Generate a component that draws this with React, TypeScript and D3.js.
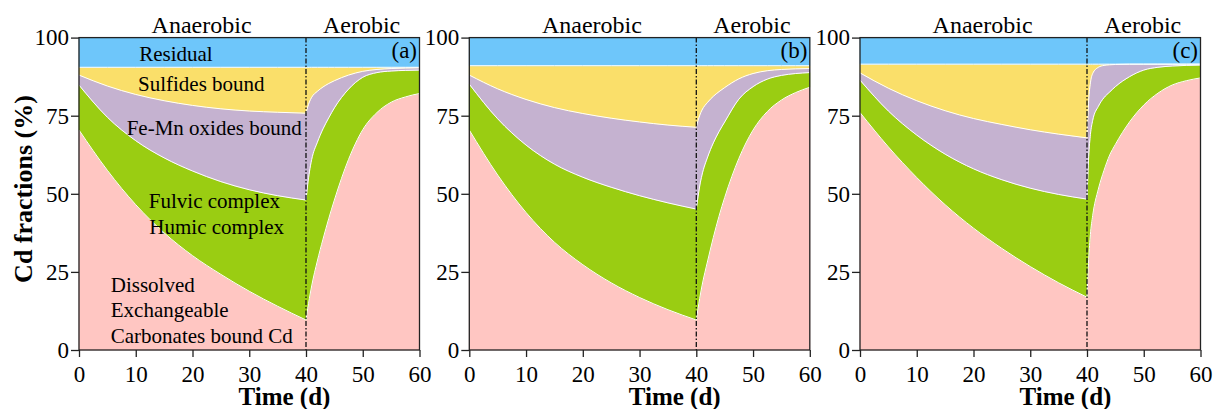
import * as d3 from "d3";
import { useRef, useEffect } from "react";

// sampling days of the two phases
const anaerobicDays = [0, 5, 10, 15, 20, 25, 30, 35, 40];
const aerobicDays = [40, 40.3, 40.6, 41, 42, 43, 44, 45, 47.5, 50, 52.5, 55, 57.5, 60];

const xTicks = [0, 10, 20, 30, 40, 50, 60];
const yTicks = [0, 25, 50, 75, 100];
const panelLabels = ["(a)", "(b)", "(c)"];
const phaseNames = ["Anaerobic", "Aerobic"];
const phaseCenters = [21.6, 49.8];
const switchDay = 40;

// layer order bottom -> top
const layerColors = ["#FFC6C2", "#9ACD12", "#C5B2D0", "#FADF6A", "#6EC6FA"];

// upper edge (cumulative %) of each layer, panel (a)
const aDissolvedAn = [70.4, 57.5, 46.5, 37.5, 30.2, 24.2, 18.8, 14, 9.6];
const aHumicAn = [84.8, 74.5, 67, 61.5, 57.3, 53.9, 51.3, 49.4, 48];
const aFeMnAn = [88, 84.5, 81.8, 79.8, 78.3, 77.2, 76.5, 76.1, 75.8];
const aDissolvedAe = [9.6, 13.2, 16.5, 20.5, 28.5, 35.5, 42, 48, 61, 70.5, 76, 79.3, 81, 82.1];
const aHumicAe = [48, 53, 57, 61, 66.5, 70.8, 74.3, 77.5, 83.5, 87.3, 88.8, 89.3, 89.5, 89.6];
const aFeMnAe = [75.8, 77.8, 79.4, 80.9, 82.8, 84.2, 85.3, 86.2, 88, 89.2, 89.8, 90.1, 90.25, 90.35];
const aResidualBase = 90.5;

// panel (b)
const bDissolvedAn = [70.4, 56, 44, 34.5, 27.3, 21.5, 16.8, 12.9, 9.6];
const bHumicAn = [85.1, 74, 65.6, 59.5, 55.3, 52.1, 49.4, 47.1, 45.1];
const bFeMnAn = [88, 83.6, 80.2, 77.6, 75.7, 74.2, 73, 72, 71.3];
const bDissolvedAe = [9.6, 13.2, 16.5, 20.5, 28.5, 36, 42.8, 48.8, 61.3, 70.4, 76.3, 80, 82.4, 84.1];
const bHumicAe = [45.1, 49, 52.5, 56, 61.8, 66.3, 69.9, 73, 80.3, 84.3, 86.7, 87.9, 88.5, 88.8];
const bFeMnAe = [71.3, 73.4, 75.1, 76.8, 79.3, 81.2, 82.7, 84, 86.8, 88.5, 89.4, 89.8, 90, 90.1];
const bResidualBase = 91.0;

// panel (c)
const cDissolvedAn = [76, 65, 55.2, 46.5, 39, 32.5, 26.7, 21.5, 16.9];
const cHumicAn = [86.4, 76.5, 68.8, 62.7, 58, 54.5, 51.8, 49.8, 48.3];
const cFeMnAn = [88.7, 83.8, 79.8, 76.6, 74.1, 72.2, 70.5, 69.1, 67.9];
const cDissolvedAe = [16.9, 29, 37, 43, 51.5, 57.5, 62.4, 65.8, 73, 78.4, 82.2, 84.8, 86.2, 87.1];
const cHumicAe = [48.3, 62, 69, 73.5, 78, 80.8, 82.6, 84.3, 87.5, 89.6, 90.5, 90.9, 91.1, 91.2];
const cFeMnAe = [67.9, 80, 85.5, 88.5, 90.5, 91.1, 91.3, 91.4, 91.5, 91.5, 91.5, 91.5, 91.5, 91.5];
const cResidualBase = 91.5;

// fraction labels written in panel (a): [text, day, %]
const fractionLabels: [string, number, number][] = [
  ["Residual", 10.6, 92.5],
  ["Sulfides bound", 10.4, 83.0],
  ["Fe-Mn oxides bound", 8.4, 68.8],
  ["Fulvic complex", 12.3, 45.4],
  ["Humic complex", 12.4, 37.1],
  ["Dissolved", 5.6, 18.7],
  ["Exchangeable", 5.6, 10.6],
  ["Carbonates bound Cd", 5.6, 2.2],
];

const panels = [
  { an: [aDissolvedAn, aHumicAn, aFeMnAn], ae: [aDissolvedAe, aHumicAe, aFeMnAe], base: aResidualBase },
  { an: [bDissolvedAn, bHumicAn, bFeMnAn], ae: [bDissolvedAe, bHumicAe, bFeMnAe], base: bResidualBase },
  { an: [cDissolvedAn, cHumicAn, cFeMnAn], ae: [cDissolvedAe, cHumicAe, cFeMnAe], base: cResidualBase },
];

const width = 1213;
const height = 409;
const panelLefts = [79, 469.3, 860];
const panelWidth = 340.5;
const top = 37.6;
const bottom = 350;
const serif = "'Liberation Serif', 'Times New Roman', serif";

export default function App() {
  const svgRef = useRef<SVGSVGElement>(null);

  const y = d3.scaleLinear().domain([0, 100]).range([bottom, top]);
  const xs = panelLefts.map((l) => d3.scaleLinear().domain([0, 60]).range([l, l + panelWidth]));

  useEffect(() => {
    const svg = d3.select(svgRef.current);
    xs.forEach((x, i) => {
      svg
        .select(`.x-axis-${i}`)
        .attr("transform", `translate(0,${bottom})`)
        .call(d3.axisBottom(x).tickValues(xTicks).tickSize(7).tickSizeOuter(0).tickPadding(9) as any);
      svg
        .select(`.y-axis-${i}`)
        .attr("transform", `translate(${panelLefts[i]},0)`)
        .call(d3.axisLeft(y).tickValues(yTicks).tickSize(8).tickSizeOuter(0).tickPadding(2) as any);
    });
    svg.selectAll(".axis .domain").remove();
    svg.selectAll(".axis text").attr("font-family", serif).attr("font-size", 23).attr("fill", "#000");
    svg.selectAll(".axis line").attr("stroke", "#222").attr("stroke-width", 1.3);
  }, []);

  return (
    <svg
      ref={svgRef}
      width={width}
      height={height}
      style={{ position: "absolute", left: 0, top: 0, background: "#fff" }}
    >
      {panels.map((p, i) => {
        const x = xs[i];
        const phases = [
          { days: anaerobicDays, tops: p.an },
          { days: aerobicDays, tops: p.ae },
        ];
        return (
          <g key={i}>
            {phases.map((ph, k) => {
              // stacked edges: 0, dissolved, humic, Fe-Mn, sulfides (= residual base), 100
              const bounds = [
                ph.days.map(() => 0),
                ...ph.tops,
                ph.days.map(() => p.base),
                ph.days.map(() => 100),
              ];
              const edge = (vals: number[]) =>
                d3
                  .line<number>()
                  .x((d) => x(d))
                  .y((_, j) => y(vals[j]))
                  .curve(d3.curveMonotoneX)(ph.days);
              return (
                <g key={k}>
                  {layerColors.map((c, li) => {
                    const area = d3
                      .area<number>()
                      .x((d) => x(d))
                      .y0((_, j) => y(bounds[li][j]))
                      .y1((_, j) => y(bounds[li + 1][j]))
                      .curve(d3.curveMonotoneX);
                    return (
                      <path key={li} d={area(ph.days) || ""} fill={c} stroke={c} strokeWidth={0.6} />
                    );
                  })}
                  {bounds.slice(1, 5).map((b, li) => (
                    <path key={"e" + li} d={edge(b) || ""} fill="none" stroke="#fff" strokeWidth={1} />
                  ))}
                </g>
              );
            })}
            <line
              x1={x(switchDay)}
              x2={x(switchDay)}
              y1={y(100)}
              y2={y(0)}
              stroke="#111"
              strokeWidth={1.3}
              strokeDasharray="5,2,1.5,2"
            />
            <rect
              x={panelLefts[i]}
              y={top}
              width={panelWidth}
              height={bottom - top}
              fill="none"
              stroke="#222"
              strokeWidth={1.3}
            />
            <g className={`axis x-axis-${i}`} />
            <g className={`axis y-axis-${i}`} />
            {phaseNames.map((t, k) => (
              <text
                key={t}
                x={x(phaseCenters[k])}
                y={32.5}
                textAnchor="middle"
                fontFamily={serif}
                fontSize={24}
                fill="#000"
              >
                {t}
              </text>
            ))}
            <text
              x={panelLefts[i] + panelWidth - 2.5}
              y={58}
              textAnchor="end"
              fontFamily={serif}
              fontSize={23}
              fill="#000"
            >
              {panelLabels[i]}
            </text>
            <text
              x={x(36.2)}
              y={405}
              textAnchor="middle"
              fontFamily={serif}
              fontSize={25}
              fontWeight="bold"
              fill="#000"
            >
              Time (d)
            </text>
          </g>
        );
      })}

      {fractionLabels.map(([t, d, v]) => (
        <text key={t} x={xs[0](d)} y={y(v)} fontFamily={serif} fontSize={21} fill="#000">
          {t}
        </text>
      ))}

      <text
        transform={`translate(32,189) rotate(-90)`}
        textAnchor="middle"
        fontFamily={serif}
        fontSize={26}
        fontWeight="bold"
        fill="#000"
      >
        Cd fractions (%)
      </text>
    </svg>
  );
}
